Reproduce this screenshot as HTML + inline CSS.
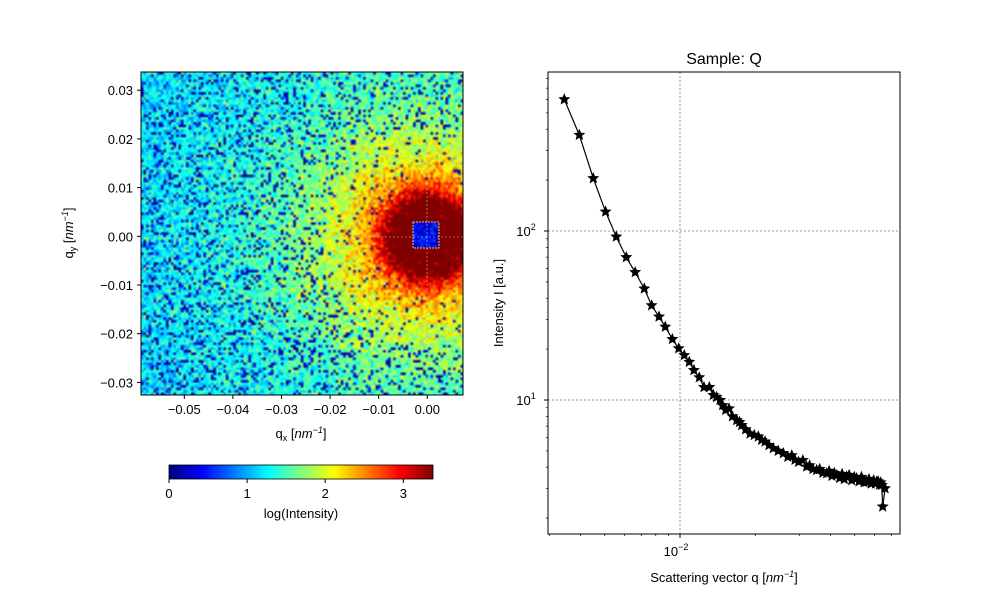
<!DOCTYPE html>
<html><head><meta charset="utf-8"><style>
body{margin:0;background:#fff;width:1000px;height:600px;overflow:hidden;position:relative;font-family:"Liberation Sans",sans-serif}
#hm{position:absolute;left:141px;top:72px;width:322px;height:323px}
#cb{position:absolute;left:169px;top:465px;width:264px;height:14px}
svg{position:absolute;left:0;top:0}
text{font-family:"Liberation Sans",sans-serif;font-size:13px;fill:#000}
</style></head><body>
<canvas id="hm" width="129" height="129"></canvas>
<canvas id="cb" width="264" height="1"></canvas>
<svg id="s" width="1000" height="600"></svg>
<script>
// ---- data ----
const profR = [0, 35, 42, 50, 60, 80, 110, 150, 200, 280, 450];       // radius in px from beam centre
const profLogI = [3.8, 3.6, 3.3, 2.85, 2.45, 2.1, 1.8, 1.55, 1.35, 1.2, 1.1];
const qVals = [3.445e-3,3.956e-3,4.498e-3,5.04e-3,5.56e-3,6.10e-3,6.62e-3,7.20e-3,7.70e-3,8.24e-3,8.73e-3,9.32e-3,9.88e-3,1.040e-2,1.089e-2,1.137e-2,1.194e-2,1.247e-2,1.310e-2,1.359e-2,1.40e-2,1.445e-2,1.48e-2,1.523e-2,1.570e-2,1.62e-2,1.686e-2,1.73e-2,1.765e-2,1.83e-2,1.905e-2,1.98e-2,2.057e-2,2.12e-2,2.188e-2,2.27e-2,2.362e-2,2.47e-2,2.59e-2,2.70e-2,2.80e-2,2.884e-2,2.98e-2,3.10e-2,3.21e-2,3.30e-2,3.40e-2,3.52e-2,3.62e-2,3.73e-2,3.86e-2,3.95e-2,4.05e-2,4.14e-2,4.24e-2,4.35e-2,4.45e-2,4.54e-2,4.64e-2,4.75e-2,4.86e-2,4.98e-2,5.09e-2,5.2e-2,5.32e-2,5.45e-2,5.58e-2,5.7e-2,5.82e-2,5.95e-2,6.05e-2,6.12e-2,6.2e-2,6.28e-2,6.35e-2,6.41e-2,6.47e-2,6.61e-2];
const iVals = [601,370,205,130,92.5,69.9,57,45.6,36.3,31.1,27.1,22.9,20.2,18.4,16.8,15.0,13.6,11.9,11.9,10.7,10.4,10.0,9.3,8.73,8.9,8.0,7.59,7.4,7.09,6.7,6.32,6.2,6.07,5.8,5.67,5.4,5.18,5.0,4.84,4.6,4.7,4.42,4.3,4.4,4.03,4.1,3.9,3.85,3.9,3.7,3.68,3.8,3.55,3.7,3.60,3.45,3.65,3.4,3.52,3.6,3.35,3.5,3.44,3.3,3.5,3.25,3.28,3.4,3.2,3.35,3.2,3.28,3.3,3.15,3.25,3.14,2.34,3.0];
const xTicksL = [-0.05,-0.04,-0.03,-0.02,-0.01,0.00];
const yTicksL = [0.03,0.02,0.01,0.00,-0.01,-0.02,-0.03];
const cbTicks = [0,1,2,3];

const NS='http://www.w3.org/2000/svg';
const svg=document.getElementById('s');
function el(tag,attrs,parent){const e=document.createElementNS(NS,tag);for(const k in attrs)e.setAttribute(k,attrs[k]);(parent||svg).appendChild(e);return e;}
function jet(v){
  const r=Math.min(Math.max(Math.min(4*v-1.5,-4*v+4.5),0),1);
  const g=Math.min(Math.max(Math.min(4*v-0.5,-4*v+3.5),0),1);
  const b=Math.min(Math.max(Math.min(4*v+0.5,-4*v+2.5),0),1);
  return [r*255,g*255,b*255];
}
const VMAX=3.38;
let seed=12345;function rnd(){seed|=0;seed=seed+0x6D2B79F5|0;let t=Math.imul(seed^seed>>>15,1|seed);t=t+Math.imul(t^t>>>7,61|t)^t;return((t^t>>>14)>>>0)/4294967296;}
function prof(r){for(let i=1;i<profR.length;i++){if(r<=profR[i]){const f=(r-profR[i-1])/(profR[i]-profR[i-1]);return profLogI[i-1]+f*(profLogI[i]-profLogI[i-1]);}}return profLogI[profLogI.length-1];}
const hc=document.getElementById('hm'),hx=hc.getContext('2d'),img=hx.createImageData(129,129);
const cx=427-141, cy=237-72, sc=322/129;
for(let j=0;j<129;j++)for(let i=0;i<129;i++){
  const px=(i+0.5)*sc, py=(j+0.5)*(323/129);
  const r=Math.hypot(px-cx,py-cy);
  let v=prof(r)+(rnd()+rnd()+rnd()-1.5)*0.45;
  const pz=r<55?0:(r<110?0.06:0.16);
  if(rnd()<pz)v=rnd()*0.3;
  if(px>413-141&&px<439-141&&py>222-72&&py<248-72)v=0.1+rnd()*0.6;
  const c=jet(Math.min(Math.max(v/VMAX,0),1));const k=(j*129+i)*4;
  img.data[k]=c[0];img.data[k+1]=c[1];img.data[k+2]=c[2];img.data[k+3]=255;
}
hx.putImageData(img,0,0);
const cc=document.getElementById('cb').getContext('2d');
for(let i=0;i<264;i++){const c=jet(i/263);cc.fillStyle=`rgb(${c[0]|0},${c[1]|0},${c[2]|0})`;cc.fillRect(i,0,1,1);}
const xL=q=>427.3+q*4860, yL=q=>236.3-q*4870;
el('line',{x1:427,y1:72,x2:427,y2:395,stroke:'#bbb','stroke-width':0.6,'stroke-dasharray':'2,2'});
el('line',{x1:141,y1:237,x2:463,y2:237,stroke:'#bbb','stroke-width':0.6,'stroke-dasharray':'2,2'});
el('rect',{x:413,y:222,width:26,height:26,fill:'none',stroke:'#eee','stroke-width':0.8,'stroke-dasharray':'2,1'});
el('rect',{x:141,y:72,width:322,height:323,fill:'none',stroke:'#000','stroke-width':1,});
xTicksL.forEach(t=>{const x=xL(t);el('line',{x1:x,y1:395,x2:x,y2:399,stroke:'#000'});const tx=el('text',{x:x,y:414,'text-anchor':'middle'});tx.textContent=t.toFixed(2).replace('-','\u2212');});
yTicksL.forEach(t=>{const y=yL(t);el('line',{x1:137,y1:y,x2:141,y2:y,stroke:'#000'});const tx=el('text',{x:133,y:y+5,'text-anchor':'end'});tx.textContent=t.toFixed(2).replace('-','\u2212');});
let t=el('text',{x:301,y:438,'text-anchor':'middle',});t.innerHTML='q<tspan font-size="9" dy="3">x</tspan><tspan dy="-3"> [</tspan><tspan font-style="italic">nm</tspan><tspan font-size="9" dy="-5" font-style="italic">−1</tspan><tspan dy="5">]</tspan>';
t=el('text',{x:0,y:0,'text-anchor':'middle',transform:'translate(73,233) rotate(-90)',});t.innerHTML='q<tspan font-size="9" dy="3">y</tspan><tspan dy="-3"> [</tspan><tspan font-style="italic">nm</tspan><tspan font-size="9" dy="-5" font-style="italic">−1</tspan><tspan dy="5">]</tspan>';
el('rect',{x:169,y:465,width:264,height:14,fill:'none',stroke:'#000','stroke-width':0.8});
cbTicks.forEach(v=>{const x=169+v/VMAX*264;el('line',{x1:x,y1:479,x2:x,y2:483,stroke:'#000'});const tx=el('text',{x:x,y:498,'text-anchor':'middle'});tx.textContent=v;});
t=el('text',{x:301,y:518,'text-anchor':'middle',});t.textContent='log(Intensity)';
const X0=548,X1=900,Y0=72,Y1=534;
const xR=q=>680+Math.log10(q/0.01)*250, yR=v=>231-Math.log10(v/100)*169;
el('line',{x1:680,y1:Y0,x2:680,y2:Y1,stroke:'#777','stroke-width':0.8,'stroke-dasharray':'2,2'});
[10,100].forEach(v=>el('line',{x1:X0,y1:yR(v),x2:X1,y2:yR(v),stroke:'#777','stroke-width':0.8,'stroke-dasharray':'2,2'}));
[3,4,5,6,7,8,9,20,30,40,50,60,70].forEach(m=>{const x=xR(m*1e-3);if(x>X0&&x<X1)el('line',{x1:x,y1:Y1,x2:x,y2:Y1+2,stroke:'#000','stroke-width':0.7});});
el('line',{x1:680,y1:Y1,x2:680,y2:Y1+4,stroke:'#000'});
[2,3,4,5,6,7,8,9,20,30,40,50,60,70,80,90,200,300,400,500,600,700,800].forEach(v=>{const y=yR(v);if(y>Y0&&y<Y1)el('line',{x1:X0-2,y1:y,x2:X0,y2:y,stroke:'#000','stroke-width':0.7});});
[10,100].forEach(v=>el('line',{x1:X0-4,y1:yR(v),x2:X0,y2:yR(v),stroke:'#000'}));
t=el('text',{x:526,y:236,'text-anchor':'middle',});t.innerHTML='10<tspan font-size="9" dy="-6">2</tspan>';
t=el('text',{x:526,y:405,'text-anchor':'middle',});t.innerHTML='10<tspan font-size="9" dy="-6">1</tspan>';
t=el('text',{x:676,y:556,'text-anchor':'middle',});t.innerHTML='10<tspan font-size="9" dy="-6">−2</tspan>';
let pts=qVals.map((q,i)=>xR(q).toFixed(1)+','+yR(iVals[i]).toFixed(1)).join(' ');
el('polyline',{points:pts,fill:'none',stroke:'#000','stroke-width':1.2,});
function star(x,y,r){let p=[];for(let k=0;k<10;k++){const a=-Math.PI/2+k*Math.PI/5,rr=k%2?r*0.45:r;p.push((x+rr*Math.cos(a)).toFixed(1)+','+(y+rr*Math.sin(a)).toFixed(1));}return p.join(' ');}
qVals.forEach((q,i)=>{const s=el('polygon',{points:star(xR(q),yR(iVals[i]),6.3),fill:'#000'});

});
el('rect',{x:X0,y:Y0,width:X1-X0,height:Y1-Y0,fill:'none',stroke:'#000','stroke-width':1,});
t=el('text',{x:724,y:64,'text-anchor':'middle',});t.setAttribute('style','font-size:16px');t.textContent='Sample: Q';
t=el('text',{x:0,y:0,'text-anchor':'middle',transform:'translate(503,303) rotate(-90)',});t.textContent='Intensity I [a.u.]';
t=el('text',{x:724,y:582,'text-anchor':'middle',});t.innerHTML='Scattering vector q [<tspan font-style="italic">nm</tspan><tspan font-size="9" dy="-5" font-style="italic">−1</tspan><tspan dy="5">]</tspan>';
</script>
</body></html>
